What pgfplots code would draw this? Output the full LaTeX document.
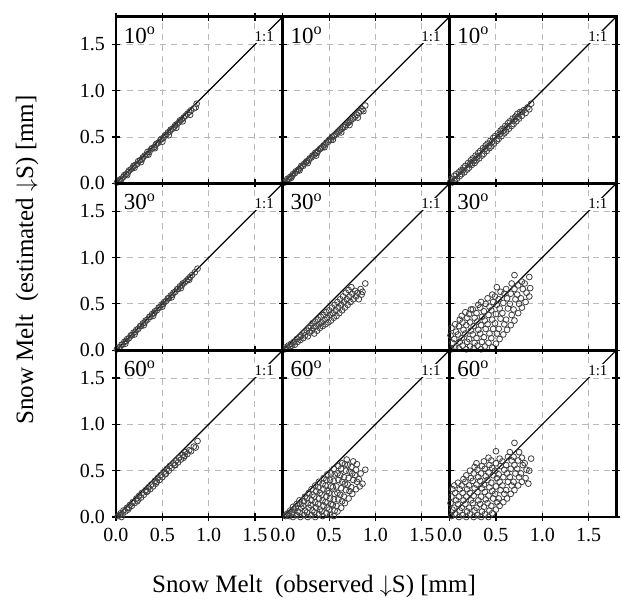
\documentclass[border=0pt]{standalone}
\usepackage{fontspec}
\setmainfont{Liberation Serif}
\usepackage{pgfplots}
\pgfplotsset{compat=1.18}
\usepgfplotslibrary{groupplots}

\pgfplotsset{
  panel/.style={
    width=83.4pt, height=83.4pt, scale only axis,
    xmin=0, xmax=1.8, ymin=0, ymax=1.8,
    xtick={0,0.5,1,1.5}, ytick={0,0.5,1,1.5},
    grid=major,
    major grid style={gray!55, line width=0.5pt, dash pattern=on 3pt off 2.5pt},
    axis line style={black, line width=1.3pt},
    tick align=center, major tick length=4pt,
    tick style={black, line width=0.6pt},
    tick label style={font=\fontsize{10}{12}\selectfont, black,
      /pgf/number format/fixed, /pgf/number format/fixed zerofill,
      /pgf/number format/precision=1, /pgf/number format/assume math mode=true},
  },
  pts/.style={only marks, mark=o, mark size=1.45pt, black!75, mark options={line width=0.4pt}},
}
% 1:1 line, its label and the angle of the panel
\newcommand{\oneone}[1]{%
  \addplot[black, line width=0.6pt, no marks] coordinates {(0,0) (1.8,1.8)};
  \node[fill=white, inner sep=0.6pt, font=\fontsize{7.5}{8}\selectfont] at (axis cs:1.6,1.58) {1:1};
  \node[anchor=west, inner sep=0pt, font=\fontsize{11.5}{12}\selectfont] at (axis cs:0.08,1.6) {#1\textsuperscript{o}};
}

\begin{document}
\begin{tikzpicture}
\begin{groupplot}[
  group style={group size=3 by 3, horizontal sep=0pt, vertical sep=0pt,
    xticklabels at=edge bottom, yticklabels at=edge left, group name=g},
  panel]
% ---- row 1 : 10 deg
\nextgroupplot
\addplot[pts] coordinates {(0.01,0.01)(0.03,0.02)(0.04,0.04)(0.06,0.05)(0.08,0.07)(0.09,0.09)(0.11,0.10)(0.13,0.12)(0.14,0.14)(0.16,0.15)(0.18,0.17)(0.19,0.19)(0.21,0.20)(0.23,0.21)(0.24,0.24)(0.26,0.25)(0.28,0.26)(0.29,0.28)(0.31,0.30)(0.33,0.31)(0.34,0.34)(0.36,0.34)(0.38,0.37)(0.39,0.38)(0.41,0.39)(0.43,0.42)(0.44,0.43)(0.46,0.44)(0.48,0.47)(0.49,0.48)(0.51,0.49)(0.53,0.52)(0.54,0.52)(0.56,0.55)(0.58,0.56)(0.59,0.58)(0.61,0.59)(0.63,0.61)(0.64,0.63)(0.66,0.64)(0.68,0.66)(0.69,0.68)(0.71,0.69)(0.73,0.71)(0.75,0.73)(0.77,0.75)(0.79,0.77)(0.81,0.79)(0.84,0.81)(0.87,0.86)(0.05,0.03)(0.12,0.09)(0.20,0.17)(0.27,0.23)(0.35,0.31)(0.42,0.38)(0.50,0.45)(0.57,0.52)(0.65,0.60)(0.72,0.67)(0.80,0.74)(0.86,0.82)};
\oneone{10}
\nextgroupplot
\addplot[pts] coordinates {(0.01,0.01)(0.02,0.01)(0.04,0.03)(0.05,0.05)(0.07,0.05)(0.08,0.07)(0.10,0.08)(0.11,0.10)(0.13,0.11)(0.14,0.13)(0.16,0.14)(0.17,0.15)(0.19,0.17)(0.20,0.19)(0.22,0.19)(0.23,0.21)(0.25,0.23)(0.26,0.24)(0.28,0.25)(0.29,0.27)(0.31,0.28)(0.32,0.30)(0.34,0.31)(0.35,0.33)(0.37,0.33)(0.38,0.35)(0.40,0.37)(0.41,0.38)(0.43,0.39)(0.44,0.41)(0.46,0.42)(0.47,0.44)(0.49,0.45)(0.50,0.47)(0.52,0.47)(0.53,0.50)(0.55,0.51)(0.56,0.52)(0.58,0.53)(0.59,0.55)(0.61,0.56)(0.62,0.58)(0.64,0.59)(0.65,0.61)(0.67,0.61)(0.68,0.63)(0.70,0.65)(0.71,0.66)(0.73,0.67)(0.74,0.69)(0.76,0.70)(0.78,0.72)(0.80,0.74)(0.82,0.76)(0.84,0.78)(0.86,0.80)(0.89,0.84)(0.09,0.06)(0.18,0.14)(0.27,0.22)(0.36,0.30)(0.45,0.39)(0.54,0.47)(0.63,0.55)(0.72,0.63)(0.81,0.71)(0.87,0.78)};
\oneone{10}
\nextgroupplot
\addplot[pts] coordinates {(0.01,0.02)(0.02,0.05)(0.03,0.01)(0.05,0.08)(0.06,0.04)(0.07,0.10)(0.08,0.05)(0.10,0.12)(0.11,0.08)(0.12,0.14)(0.13,0.10)(0.15,0.17)(0.16,0.12)(0.17,0.19)(0.19,0.15)(0.20,0.22)(0.21,0.17)(0.23,0.25)(0.24,0.20)(0.25,0.27)(0.27,0.22)(0.28,0.30)(0.29,0.25)(0.31,0.33)(0.32,0.27)(0.33,0.35)(0.35,0.30)(0.36,0.38)(0.37,0.32)(0.39,0.41)(0.40,0.35)(0.41,0.43)(0.43,0.38)(0.44,0.46)(0.45,0.40)(0.47,0.49)(0.48,0.43)(0.49,0.51)(0.51,0.46)(0.52,0.54)(0.53,0.48)(0.55,0.57)(0.56,0.51)(0.57,0.59)(0.59,0.54)(0.60,0.62)(0.61,0.56)(0.63,0.65)(0.64,0.59)(0.65,0.67)(0.67,0.62)(0.68,0.70)(0.69,0.64)(0.71,0.72)(0.72,0.67)(0.73,0.75)(0.75,0.70)(0.76,0.77)(0.78,0.73)(0.80,0.79)(0.82,0.76)(0.84,0.82)(0.86,0.80)(0.88,0.86)(0.14,0.14)(0.22,0.21)(0.30,0.29)(0.38,0.37)(0.46,0.45)(0.54,0.53)(0.62,0.61)(0.70,0.69)(0.78,0.77)(0.05,0.03)(0.26,0.24)(0.42,0.40)(0.58,0.57)(0.74,0.72)};
\oneone{10}
% ---- row 2 : 30 deg
\nextgroupplot
\addplot[pts] coordinates {(0.01,0.01)(0.03,0.03)(0.04,0.03)(0.06,0.06)(0.07,0.06)(0.09,0.09)(0.11,0.10)(0.12,0.12)(0.14,0.13)(0.16,0.16)(0.17,0.16)(0.19,0.19)(0.21,0.20)(0.22,0.22)(0.24,0.23)(0.26,0.26)(0.27,0.26)(0.29,0.29)(0.31,0.30)(0.32,0.32)(0.34,0.33)(0.36,0.36)(0.37,0.36)(0.39,0.39)(0.41,0.40)(0.42,0.42)(0.44,0.43)(0.46,0.46)(0.47,0.46)(0.49,0.49)(0.51,0.50)(0.52,0.52)(0.54,0.53)(0.56,0.56)(0.57,0.56)(0.59,0.59)(0.61,0.60)(0.62,0.62)(0.64,0.63)(0.66,0.66)(0.67,0.66)(0.69,0.69)(0.71,0.70)(0.72,0.72)(0.74,0.73)(0.76,0.75)(0.78,0.77)(0.80,0.79)(0.82,0.81)(0.85,0.84)(0.88,0.88)(0.10,0.07)(0.20,0.17)(0.30,0.27)(0.40,0.37)(0.50,0.47)(0.60,0.57)(0.70,0.67)(0.79,0.76)};
\oneone{30}
\nextgroupplot
\addplot[pts] coordinates {(0.02,0.01)(0.03,0.03)(0.05,0.02)(0.06,0.05)(0.08,0.04)(0.09,0.07)(0.10,0.05)(0.12,0.09)(0.13,0.06)(0.15,0.12)(0.16,0.09)(0.18,0.14)(0.19,0.11)(0.20,0.16)(0.22,0.13)(0.23,0.19)(0.24,0.16)(0.26,0.21)(0.27,0.15)(0.28,0.24)(0.29,0.19)(0.30,0.26)(0.31,0.21)(0.32,0.29)(0.33,0.24)(0.34,0.18)(0.35,0.31)(0.36,0.26)(0.37,0.21)(0.38,0.33)(0.39,0.28)(0.40,0.24)(0.41,0.36)(0.42,0.30)(0.43,0.26)(0.44,0.38)(0.45,0.33)(0.46,0.28)(0.47,0.41)(0.48,0.35)(0.49,0.30)(0.50,0.43)(0.51,0.38)(0.52,0.32)(0.53,0.46)(0.54,0.40)(0.55,0.35)(0.56,0.49)(0.57,0.43)(0.58,0.37)(0.59,0.52)(0.60,0.46)(0.61,0.40)(0.62,0.55)(0.63,0.49)(0.64,0.43)(0.65,0.58)(0.66,0.52)(0.67,0.46)(0.68,0.62)(0.69,0.55)(0.70,0.49)(0.71,0.65)(0.72,0.58)(0.73,0.52)(0.74,0.68)(0.75,0.61)(0.76,0.55)(0.78,0.64)(0.79,0.58)(0.81,0.62)(0.82,0.55)(0.84,0.66)(0.85,0.60)(0.89,0.72)(0.86,0.63)};
\oneone{30}
\nextgroupplot
\addplot[pts] coordinates {(0.02,0.01)(0.03,0.08)(0.01,0.16)(0.02,0.24)(0.06,0.03)(0.05,0.12)(0.07,0.20)(0.06,0.28)(0.10,0.02)(0.11,0.09)(0.09,0.17)(0.10,0.26)(0.11,0.33)(0.14,0.05)(0.13,0.13)(0.15,0.22)(0.14,0.30)(0.13,0.37)(0.18,0.01)(0.19,0.09)(0.17,0.18)(0.18,0.27)(0.19,0.35)(0.17,0.41)(0.22,0.04)(0.21,0.12)(0.23,0.21)(0.22,0.30)(0.21,0.39)(0.23,0.44)(0.26,0.02)(0.27,0.08)(0.25,0.17)(0.26,0.26)(0.27,0.35)(0.25,0.44)(0.30,0.05)(0.29,0.13)(0.31,0.22)(0.30,0.31)(0.29,0.40)(0.31,0.49)(0.34,0.01)(0.35,0.09)(0.33,0.18)(0.34,0.27)(0.35,0.36)(0.33,0.46)(0.34,0.52)(0.38,0.04)(0.37,0.14)(0.39,0.23)(0.38,0.32)(0.37,0.42)(0.39,0.50)(0.42,0.08)(0.43,0.18)(0.41,0.28)(0.42,0.38)(0.43,0.47)(0.41,0.56)(0.46,0.03)(0.45,0.13)(0.47,0.23)(0.46,0.33)(0.45,0.43)(0.47,0.52)(0.46,0.60)(0.50,0.07)(0.51,0.18)(0.49,0.29)(0.50,0.39)(0.51,0.49)(0.49,0.58)(0.51,0.68)(0.54,0.12)(0.53,0.23)(0.55,0.34)(0.54,0.45)(0.53,0.55)(0.55,0.63)(0.58,0.17)(0.59,0.28)(0.57,0.40)(0.58,0.51)(0.59,0.61)(0.62,0.22)(0.61,0.33)(0.63,0.45)(0.62,0.56)(0.61,0.66)(0.66,0.27)(0.67,0.38)(0.65,0.50)(0.66,0.61)(0.67,0.72)(0.70,0.32)(0.69,0.44)(0.71,0.55)(0.70,0.66)(0.70,0.81)(0.74,0.40)(0.75,0.50)(0.73,0.60)(0.74,0.70)(0.78,0.46)(0.77,0.56)(0.79,0.66)(0.78,0.74)(0.82,0.52)(0.83,0.62)(0.81,0.72)(0.86,0.58)(0.87,0.67)(0.86,0.79)};
\oneone{30}
% ---- row 3 : 60 deg
\nextgroupplot
\addplot[pts] coordinates {(0.02,0.01)(0.04,0.02)(0.05,0.04)(0.07,0.03)(0.08,0.07)(0.10,0.06)(0.12,0.10)(0.13,0.08)(0.15,0.13)(0.17,0.12)(0.18,0.16)(0.20,0.15)(0.22,0.20)(0.23,0.17)(0.25,0.23)(0.27,0.21)(0.28,0.26)(0.30,0.24)(0.32,0.29)(0.33,0.27)(0.35,0.32)(0.37,0.30)(0.38,0.35)(0.40,0.33)(0.42,0.39)(0.43,0.36)(0.45,0.42)(0.47,0.40)(0.48,0.45)(0.50,0.43)(0.52,0.49)(0.53,0.46)(0.55,0.52)(0.57,0.50)(0.58,0.55)(0.60,0.53)(0.62,0.58)(0.63,0.56)(0.65,0.61)(0.67,0.59)(0.68,0.64)(0.70,0.62)(0.72,0.67)(0.73,0.64)(0.75,0.70)(0.77,0.68)(0.79,0.72)(0.81,0.71)(0.84,0.76)(0.86,0.75)(0.88,0.82)(0.06,0.00)(0.14,0.10)(0.24,0.19)(0.34,0.28)(0.44,0.38)(0.54,0.47)(0.64,0.56)(0.74,0.66)};
\oneone{60}
\nextgroupplot
\addplot[pts] coordinates {(0.03,0.01)(0.04,0.03)(0.07,0.01)(0.06,0.04)(0.08,0.07)(0.11,0.00)(0.10,0.04)(0.12,0.08)(0.11,0.11)(0.15,0.02)(0.16,0.06)(0.14,0.10)(0.15,0.14)(0.19,0.00)(0.18,0.05)(0.20,0.10)(0.19,0.14)(0.18,0.18)(0.23,0.02)(0.24,0.07)(0.22,0.12)(0.23,0.17)(0.24,0.22)(0.27,0.00)(0.26,0.05)(0.28,0.10)(0.27,0.15)(0.26,0.20)(0.28,0.26)(0.31,0.02)(0.32,0.07)(0.30,0.13)(0.31,0.18)(0.32,0.24)(0.31,0.30)(0.35,0.00)(0.34,0.05)(0.36,0.10)(0.35,0.16)(0.34,0.22)(0.36,0.28)(0.35,0.34)(0.39,0.03)(0.40,0.08)(0.38,0.14)(0.39,0.20)(0.40,0.26)(0.38,0.32)(0.39,0.38)(0.43,0.01)(0.42,0.06)(0.44,0.12)(0.43,0.18)(0.42,0.24)(0.44,0.30)(0.43,0.36)(0.44,0.42)(0.47,0.04)(0.48,0.10)(0.46,0.16)(0.47,0.22)(0.48,0.28)(0.46,0.34)(0.47,0.40)(0.48,0.46)(0.51,0.02)(0.50,0.08)(0.52,0.14)(0.51,0.20)(0.50,0.26)(0.52,0.33)(0.51,0.40)(0.52,0.47)(0.55,0.01)(0.56,0.07)(0.54,0.13)(0.55,0.19)(0.56,0.25)(0.54,0.32)(0.55,0.39)(0.56,0.46)(0.55,0.52)(0.59,0.06)(0.58,0.12)(0.60,0.19)(0.59,0.26)(0.58,0.33)(0.60,0.40)(0.59,0.47)(0.60,0.55)(0.63,0.10)(0.64,0.17)(0.62,0.24)(0.63,0.31)(0.64,0.38)(0.62,0.45)(0.63,0.52)(0.64,0.58)(0.67,0.15)(0.66,0.22)(0.68,0.29)(0.67,0.36)(0.66,0.43)(0.68,0.50)(0.67,0.57)(0.69,0.62)(0.71,0.20)(0.72,0.28)(0.70,0.35)(0.71,0.42)(0.72,0.49)(0.70,0.56)(0.75,0.25)(0.74,0.32)(0.76,0.40)(0.75,0.47)(0.74,0.54)(0.76,0.60)(0.79,0.30)(0.80,0.38)(0.78,0.45)(0.79,0.51)(0.80,0.57)(0.83,0.33)(0.82,0.41)(0.84,0.47)(0.86,0.36)(0.89,0.51)};
\oneone{60}
\nextgroupplot
\addplot[pts] coordinates {(0.02,0.01)(0.03,0.08)(0.01,0.15)(0.02,0.22)(0.03,0.30)(0.06,0.03)(0.05,0.10)(0.07,0.18)(0.06,0.26)(0.05,0.34)(0.10,0.00)(0.11,0.07)(0.09,0.14)(0.10,0.22)(0.11,0.30)(0.09,0.37)(0.14,0.02)(0.13,0.10)(0.15,0.18)(0.14,0.26)(0.13,0.34)(0.15,0.41)(0.18,0.00)(0.19,0.06)(0.17,0.14)(0.18,0.22)(0.19,0.30)(0.17,0.38)(0.18,0.45)(0.22,0.03)(0.21,0.10)(0.23,0.18)(0.22,0.26)(0.21,0.34)(0.23,0.42)(0.22,0.50)(0.26,0.00)(0.27,0.07)(0.25,0.15)(0.26,0.23)(0.27,0.31)(0.25,0.39)(0.26,0.47)(0.27,0.54)(0.30,0.02)(0.29,0.10)(0.31,0.18)(0.30,0.27)(0.29,0.35)(0.31,0.43)(0.30,0.51)(0.29,0.58)(0.34,0.00)(0.35,0.06)(0.33,0.14)(0.34,0.22)(0.35,0.31)(0.33,0.39)(0.34,0.47)(0.35,0.55)(0.38,0.03)(0.37,0.11)(0.39,0.19)(0.38,0.27)(0.37,0.35)(0.39,0.44)(0.38,0.52)(0.37,0.60)(0.42,0.00)(0.43,0.07)(0.41,0.15)(0.42,0.23)(0.43,0.32)(0.41,0.40)(0.42,0.48)(0.43,0.56)(0.42,0.64)(0.46,0.04)(0.45,0.12)(0.47,0.20)(0.46,0.28)(0.45,0.37)(0.47,0.45)(0.46,0.53)(0.45,0.61)(0.50,0.08)(0.51,0.16)(0.49,0.25)(0.50,0.33)(0.51,0.42)(0.49,0.50)(0.50,0.58)(0.50,0.71)(0.54,0.12)(0.53,0.20)(0.55,0.29)(0.54,0.38)(0.53,0.46)(0.55,0.55)(0.54,0.63)(0.58,0.16)(0.59,0.25)(0.57,0.34)(0.58,0.43)(0.59,0.51)(0.57,0.60)(0.62,0.20)(0.61,0.29)(0.63,0.38)(0.62,0.47)(0.61,0.56)(0.63,0.65)(0.66,0.25)(0.67,0.34)(0.65,0.43)(0.66,0.52)(0.67,0.61)(0.65,0.70)(0.70,0.29)(0.69,0.38)(0.71,0.47)(0.70,0.56)(0.69,0.65)(0.70,0.80)(0.74,0.34)(0.75,0.43)(0.73,0.52)(0.74,0.61)(0.75,0.70)(0.78,0.38)(0.77,0.47)(0.79,0.56)(0.78,0.64)(0.82,0.42)(0.83,0.51)(0.81,0.58)(0.85,0.36)(0.86,0.50)(0.88,0.63)};
\oneone{60}
\end{groupplot}
% axis titles
\node[rotate=90, font=\fontsize{12.5}{14}\selectfont] at ([shift={(-44.5pt,128.5pt)}]g c1r3.south west) {Snow Melt\ \ (estimated $\downarrow$S) [mm]};
\node[font=\fontsize{12.5}{14}\selectfont] at ([shift={(99pt,-34.5pt)}]g c1r3.south west) {Snow Melt\ \ (observed $\downarrow$S) [mm]};
% page frame in the reference's proportions
\pgfresetboundingbox
\path ([shift={(-58pt,-42pt)}]g c1r3.south west) rectangle ([shift={(253pt,258.5pt)}]g c1r3.south west);
\end{tikzpicture}
\end{document}
